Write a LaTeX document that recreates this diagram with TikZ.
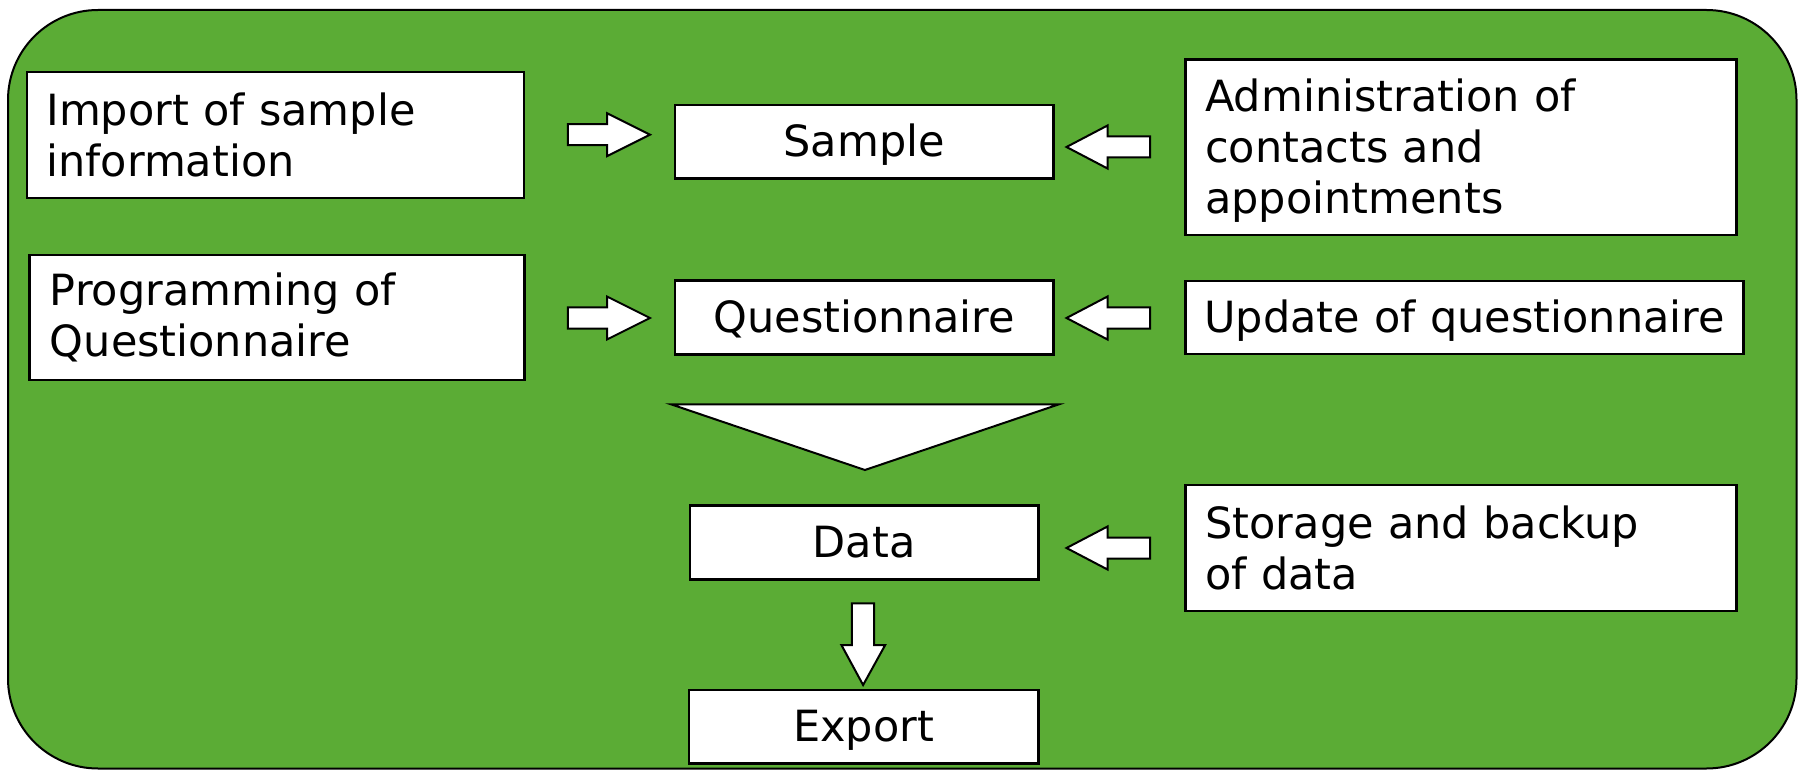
\documentclass[tikz,border=0pt]{standalone}
\usepackage{fontspec}
\setmainfont{DejaVu Sans}
\definecolor{bggreen}{RGB}{91,172,53}
\newcommand\harr[4]{\draw[blockarr] (#1,#4-10.5) -- (#2,#4-10.5) -- (#2,#4-21.5) -- (#3,#4) -- (#2,#4+21.5) -- (#2,#4+10.5) -- (#1,#4+10.5) -- cycle;}
\begin{document}
\begin{tikzpicture}[x=0.5pt,y=-0.5pt,
  box/.style={draw, fill=white, line width=1.3pt, font=\fontsize{21.5pt}{25.5pt}\selectfont,
    inner ysep=0pt, outer sep=0pt},
  lbox/.style={box, align=left},
  onebox/.style={box, text height=15pt, text depth=0pt},
  cbox/.style={onebox, align=center},
  blockarr/.style={draw, fill=white, line width=1pt, line join=miter}]
\useasboundingbox (0,0) rectangle (1799,770);
\draw[fill=bggreen, line width=1pt, rounded corners=45pt] (8,10) rectangle (1796.5,768.5);

\node[lbox, inner xsep=9.7pt, text width=229.1pt, minimum height=63pt] (imp) at (275.5,135)
  {Import of sample\\information};
\node[lbox, inner xsep=10.3pt, text width=226.9pt, minimum height=62.5pt] (prog) at (276.8,317.5)
  {Programming of\\Questionnaire};
\node[lbox, inner xsep=10pt, text width=255.5pt, minimum height=87.85pt, text depth=52.3pt] (adm) at (1460.8,147.2)
  {Administration of\\contacts and\\appointments};
\node[onebox, align=left, inner xsep=9.6pt, text width=260pt, minimum height=36.5pt] (upd) at (1464.5,317.5)
  {\mbox{Update of questionnaire}};
\node[lbox, inner xsep=10.1pt, text width=255.3pt, minimum height=63pt] (stor) at (1460.8,548)
  {Storage and backup\\of data};

\node[cbox, minimum width=189.25pt, minimum height=36.85pt] (samp) at (864.2,141.9) {Sample};
\node[cbox, minimum width=189.25pt, minimum height=36.85pt] (quest) at (864.2,317.5) {Questionnaire};
\node[cbox, minimum width=174.2pt, minimum height=37pt] (data) at (864.2,542.3) {Data};
\node[cbox, minimum width=174.7pt, minimum height=36.65pt] (exp) at (863.7,726.7) {Export};

% block arrows
\harr{567.8}{607}{650}{134.7}
\harr{567.8}{607}{650}{318}
\harr{1150}{1107.5}{1066.5}{147}
\harr{1150}{1107.5}{1066.5}{318}
\harr{1150}{1107.5}{1066.5}{548}

% funnel triangle
\draw[blockarr] (671,404.3) -- (1059,404.3) -- (864.9,470) -- cycle;

% down arrow Data -> Export
\draw[blockarr] (851.8,603.3) -- (874.2,603.3) -- (874.2,645) -- (885.2,645) -- (863.1,685)
  -- (841.4,645) -- (851.8,645) -- cycle;
\end{tikzpicture}
\end{document}
